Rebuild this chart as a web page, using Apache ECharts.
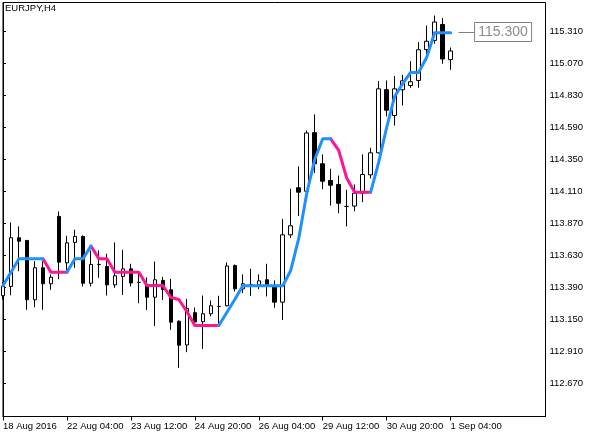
<!DOCTYPE html>
<html><head><meta charset="utf-8">
<script src="https://cdn.jsdelivr.net/npm/echarts@6/dist/echarts.min.js"></script>
<style>html,body{margin:0;padding:0;background:#fff}#c{width:597px;height:434px}</style>
</head><body><div id="c"></div>
<script>
const symbolTitle = 'EURJPY,H4';
const openP  = [113.328,113.398,113.763,113.743,113.298,113.538,113.418,113.923,113.575,113.728,113.773,113.422,113.562,113.548,113.410,113.473,113.530,113.428,113.413,113.317,113.443,113.373,113.137,112.959,113.201,113.133,113.193,113.248,113.253,113.555,113.380,113.413,113.411,113.448,113.392,113.280,113.785,114.138,114.112,114.551,114.318,114.193,114.163,113.998,114.001,114.097,114.235,114.400,114.874,114.680,114.873,114.905,114.943,115.174,115.243,115.363,115.099];
const closeP = [113.398,113.763,113.737,113.298,113.538,113.418,113.467,113.580,113.725,113.773,113.422,113.563,113.563,113.410,113.478,113.530,113.424,113.428,113.317,113.448,113.375,113.130,112.957,113.233,113.131,113.193,113.253,113.248,113.551,113.380,113.418,113.413,113.440,113.410,113.280,113.785,113.853,114.105,114.549,114.318,114.187,114.157,114.022,113.998,114.097,114.238,114.400,114.880,114.720,114.880,114.940,114.933,115.173,115.237,115.381,115.104,115.164];
const highP  = [113.430,113.878,113.848,113.745,113.587,113.587,113.488,113.960,113.778,113.823,113.780,113.668,113.668,113.643,113.728,113.673,113.568,113.510,113.465,113.585,113.469,113.455,113.143,113.305,113.240,113.330,113.293,113.328,113.578,113.563,113.488,113.531,113.488,113.568,113.443,113.905,114.130,114.298,114.568,114.688,114.388,114.280,114.230,114.123,114.163,114.388,114.438,114.939,114.943,114.976,114.984,115.087,115.231,115.355,115.430,115.411,115.190];
const lowP   = [113.300,113.332,113.512,113.223,113.242,113.223,113.373,113.452,113.518,113.538,113.398,113.398,113.463,113.330,113.388,113.334,113.398,113.272,113.221,113.101,113.296,113.073,112.788,112.905,113.122,112.929,113.174,113.105,113.248,113.360,113.349,113.328,113.377,113.323,113.238,113.146,113.761,113.926,114.103,114.249,114.127,114.005,113.947,113.848,113.962,114.030,114.208,114.395,114.673,114.605,114.755,114.888,114.888,115.093,115.218,115.068,115.023];
const indicator = [113.405,113.505,113.605,113.605,113.605,113.605,113.505,113.505,113.505,113.605,113.605,113.701,113.605,113.605,113.505,113.505,113.505,113.505,113.405,113.405,113.405,113.315,113.300,113.210,113.105,113.105,113.105,113.105,113.203,113.300,113.403,113.403,113.403,113.403,113.403,113.403,113.518,113.758,114.095,114.350,114.505,114.505,114.418,114.211,114.105,114.105,114.105,114.328,114.590,114.823,114.918,115.003,115.003,115.115,115.300,115.300,115.300];
// trend of the segment ending at each bar: 1 = up (blue), -1 = down (pink)
const trend = [1,1,1,1,1,1,-1,-1,-1,1,1,1,-1,-1,-1,-1,-1,-1,-1,-1,-1,-1,-1,-1,-1,-1,-1,-1,1,1,1,1,1,1,1,1,1,1,1,1,1,1,-1,-1,-1,-1,-1,1,1,1,1,1,1,1,1,1,1];
const timeTickIndex = [0,8,16,24,32,40,48,56];
const timeTickLabels = ['18 Aug 2016','22 Aug 04:00','23 Aug 12:00','24 Aug 20:00','26 Aug 04:00','29 Aug 12:00','30 Aug 20:00','1 Sep 04:00'];
const priceTicks = [112.67,112.91,113.15,113.39,113.63,113.87,114.11,114.35,114.59,114.83,115.07,115.31];
const lastPrice = 115.300;

const n = openP.length;
const candleData = openP.map((o, i) => [i, o, closeP[i], lowP[i], highP[i]]);
function lineData(dir) {
  return indicator.map((v, i) => {
    const on = trend[i] === dir || (i + 1 < n && trend[i + 1] === dir);
    return [i, on ? v : null];
  });
}
const FONT = '"Liberation Sans", Arial, sans-serif';
const chart = echarts.init(document.getElementById('c'), null, {renderer: 'canvas'});
chart.setOption({
  animation: false,
  backgroundColor: '#fff',
  grid: {left: 2.5, top: 2.5, right: 51.5, bottom: 17.5, show: true, borderColor: '#000', borderWidth: 1, backgroundColor: 'transparent'},
  xAxis: {
    type: 'value', min: 0, max: 67.875,
    axisLine: {show: true, lineStyle: {color: '#000', width: 1}},
    splitLine: {show: false},
    axisTick: {show: true, length: 4, lineStyle: {color: '#000'}, customValues: timeTickIndex},
    axisLabel: {
      customValues: timeTickIndex, align: 'left', margin: 5,
      color: '#000', fontSize: 9.5, fontFamily: FONT,
      formatter: v => timeTickLabels[timeTickIndex.indexOf(Math.round(v))] || ''
    }
  },
  yAxis: {
    type: 'value', position: 'right', min: 112.4225, max: 115.5275, scale: true,
    axisLine: {show: true, lineStyle: {color: '#000', width: 1}},
    splitLine: {show: false},
    axisTick: {show: true, length: 3, lineStyle: {color: '#000'}, customValues: priceTicks},
    axisLabel: {
      customValues: priceTicks, margin: 4, color: '#000', fontSize: 9.5, fontFamily: FONT,
      formatter: v => Number(v).toFixed(3)
    }
  },
  series: [
    {
      type: 'candlestick', data: candleData, encode: {x: 0, y: [1, 2, 3, 4]},
      barWidth: 4, clip: true, z: 2,
      itemStyle: {color: '#fff', color0: '#000', borderColor: '#000', borderColor0: '#000', borderColorDoji: '#000', borderWidth: 1},
      emphasis: {disabled: true}
    },
    {
      type: 'line', data: lineData(-1), showSymbol: false, symbol: 'none', clip: true, z: 3,
      lineStyle: {color: '#FF1493', width: 3, cap: 'round', join: 'round'}, emphasis: {disabled: true}
    },
    {
      type: 'line', data: lineData(1), showSymbol: false, symbol: 'none', clip: true, z: 4,
      lineStyle: {color: '#1E90FF', width: 3, cap: 'round', join: 'round'}, emphasis: {disabled: true}
    }
  ]
});
const p = chart.convertToPixel({gridIndex: 0}, [n - 1, lastPrice]);
const ly = Math.round(p[1]) - 0.5;
chart.setOption({
  graphic: [
    {type: 'text', left: 5, top: 3, style: {text: symbolTitle, fill: '#000', font: '9.5px ' + FONT}},
    {type: 'line', shape: {x1: p[0] + 8, y1: ly, x2: p[0] + 24, y2: ly}, style: {stroke: '#808080', lineWidth: 1}},
    {type: 'rect', shape: {x: p[0] + 24, y: ly - 10, width: 57, height: 19}, style: {stroke: '#808080', fill: '#fff', lineWidth: 1}},
    {type: 'text', x: p[0] + 52.5, y: ly - 0.5, style: {text: lastPrice.toFixed(3), fill: '#8c8c8c', font: '14px ' + FONT, align: 'center', verticalAlign: 'middle'}}
  ]
});
</script></body></html>
